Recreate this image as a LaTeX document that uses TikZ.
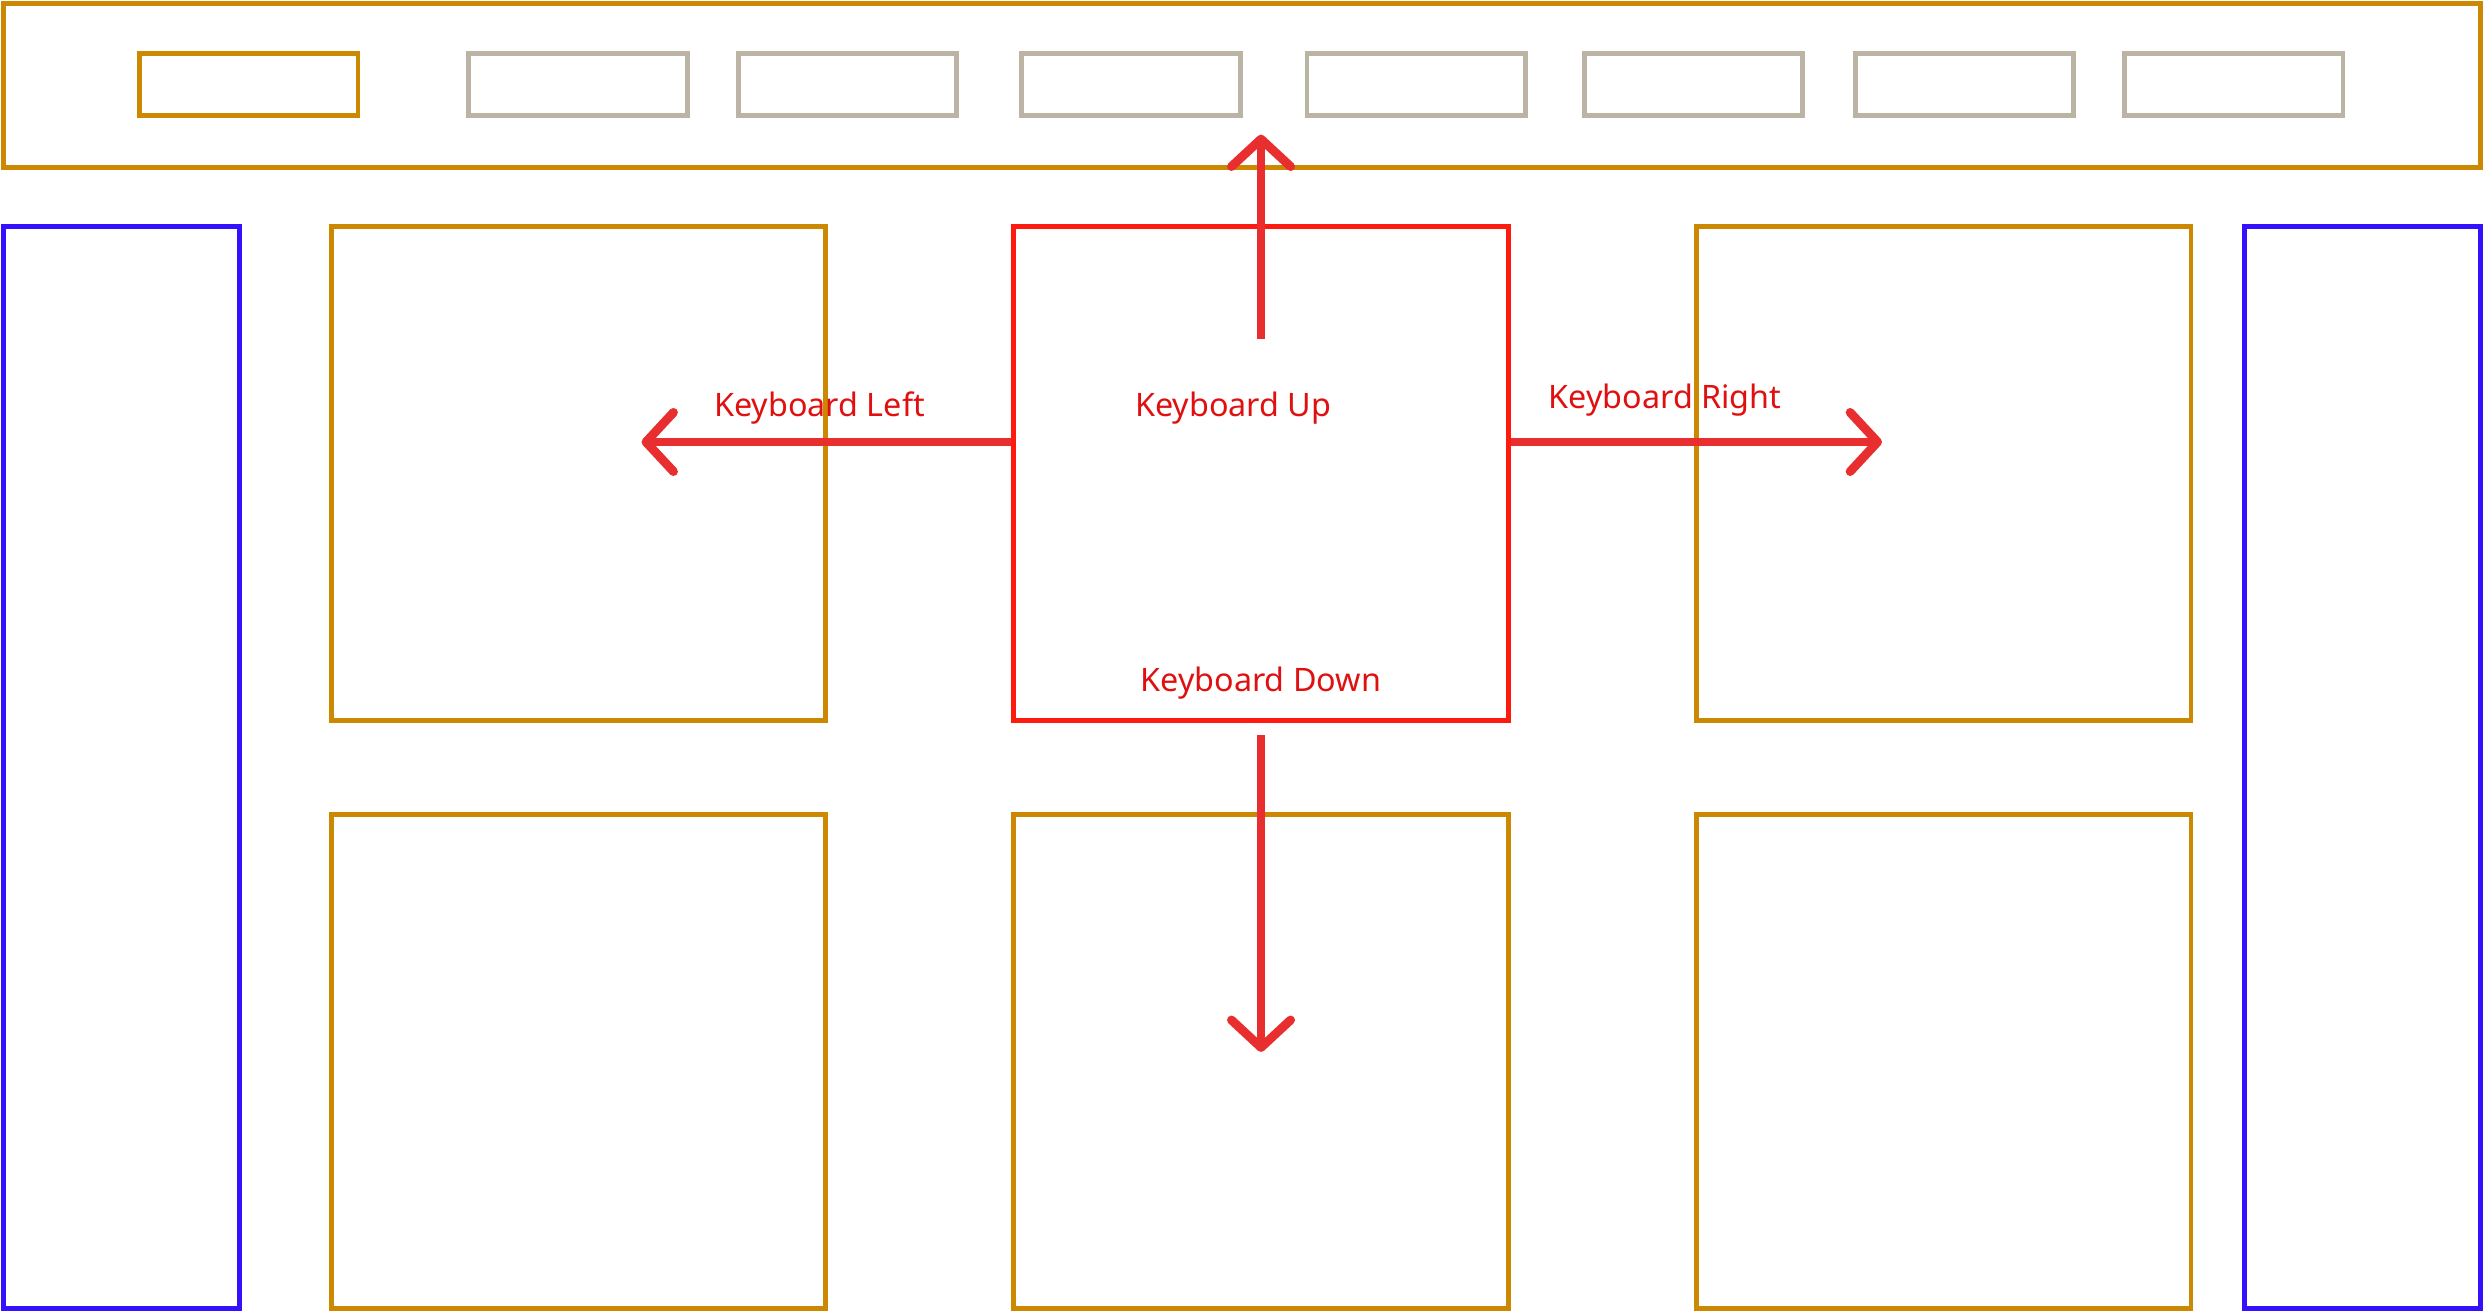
\documentclass[tikz,border=0pt]{standalone}
\usepackage{fontspec}
\setmainfont{Noto Sans}
\usetikzlibrary{arrows.meta}

\definecolor{navorange}{RGB}{204,136,0}
\definecolor{navgrey}{RGB}{187,179,163}
\definecolor{panelblue}{RGB}{51,17,255}
\definecolor{focusred}{RGB}{255,26,16}
\definecolor{arrowred}{RGB}{232,46,46}
\definecolor{labelred}{RGB}{224,16,16}

\tikzset{
  navbox/.style={draw=navorange, line width=2.3pt},
  tabbox/.style={draw=navgrey, line width=2.3pt},
  sidebox/.style={draw=panelblue, line width=2.3pt},
  focusbox/.style={draw=focusred, line width=2.3pt, inner sep=0pt, minimum width=234pt, minimum height=234pt},
  keyarrow/.style={draw=arrowred, line width=4.2pt, -{Straight Barb[length=13pt, width=28pt, round]}},
  keylabel/.style={anchor=base west, inner sep=0pt, text=labelred, font=\fontsize{15.3}{18}\selectfont}
}

\begin{document}
\begin{tikzpicture}[x=0.75pt,y=0.75pt,yscale=-1,xscale=1]
\useasboundingbox (0,0) rectangle (1568,828);

%Shape: Rectangle [top bar]
\draw [navbox] (2,2) rectangle (1566,106);
%Shape: Rectangle [active tab]
\draw [navbox] (88,34) rectangle (226,73);
%Shape: Rectangle [other tabs]
\foreach \x in {296,466,645,825,1000,1171,1341}
  \draw [tabbox] (\x,34) rectangle ++(138,39);

%Shape: Rectangle [side panels]
\draw [sidebox] (2,143) rectangle (151,826);
\draw [sidebox] (1417,143) rectangle (1566,826);

%Shape: Rectangle [grid cells]
\draw [navbox] (209,143) rectangle (521,455);
\draw [navbox] (1071,143) rectangle (1383,455);
\foreach \x in {209,640,1071}
  \draw [navbox] (\x,514) rectangle ++(312,312);

%Shape: Rectangle [focused cell]
\node [focusbox] (focus) at (796,299) {};

%Straight Lines [arrow ends]
\coordinate (uptail) at (796,214);
\coordinate (uptip) at (796,85);
\coordinate (downtail) at (796,464);
\coordinate (downtip) at (796,664);
\coordinate (lefttip) at (405,279);
\coordinate (righttip) at (1188,279);

\draw [keyarrow] (uptail) -- (uptip);
\draw [keyarrow] (downtail) -- (downtip);
\draw [keyarrow] (focus.west |- lefttip) -- (lefttip);
\draw [keyarrow] (focus.east |- righttip) -- (righttip);

% Text Node
\node [keylabel] (lblleft) at (450.6,263) {Keyboard Left};
% Text Node
\node [keylabel] (lblup) at (716.4,262.6) {Keyboard Up};
% Text Node
\node [keylabel] (lblright) at (977.3,257.7) {Keyboard Right};
% Text Node
\node [keylabel] (lbldown) at (719.7,436.6) {Keyboard Down};

\end{tikzpicture}
\end{document}
